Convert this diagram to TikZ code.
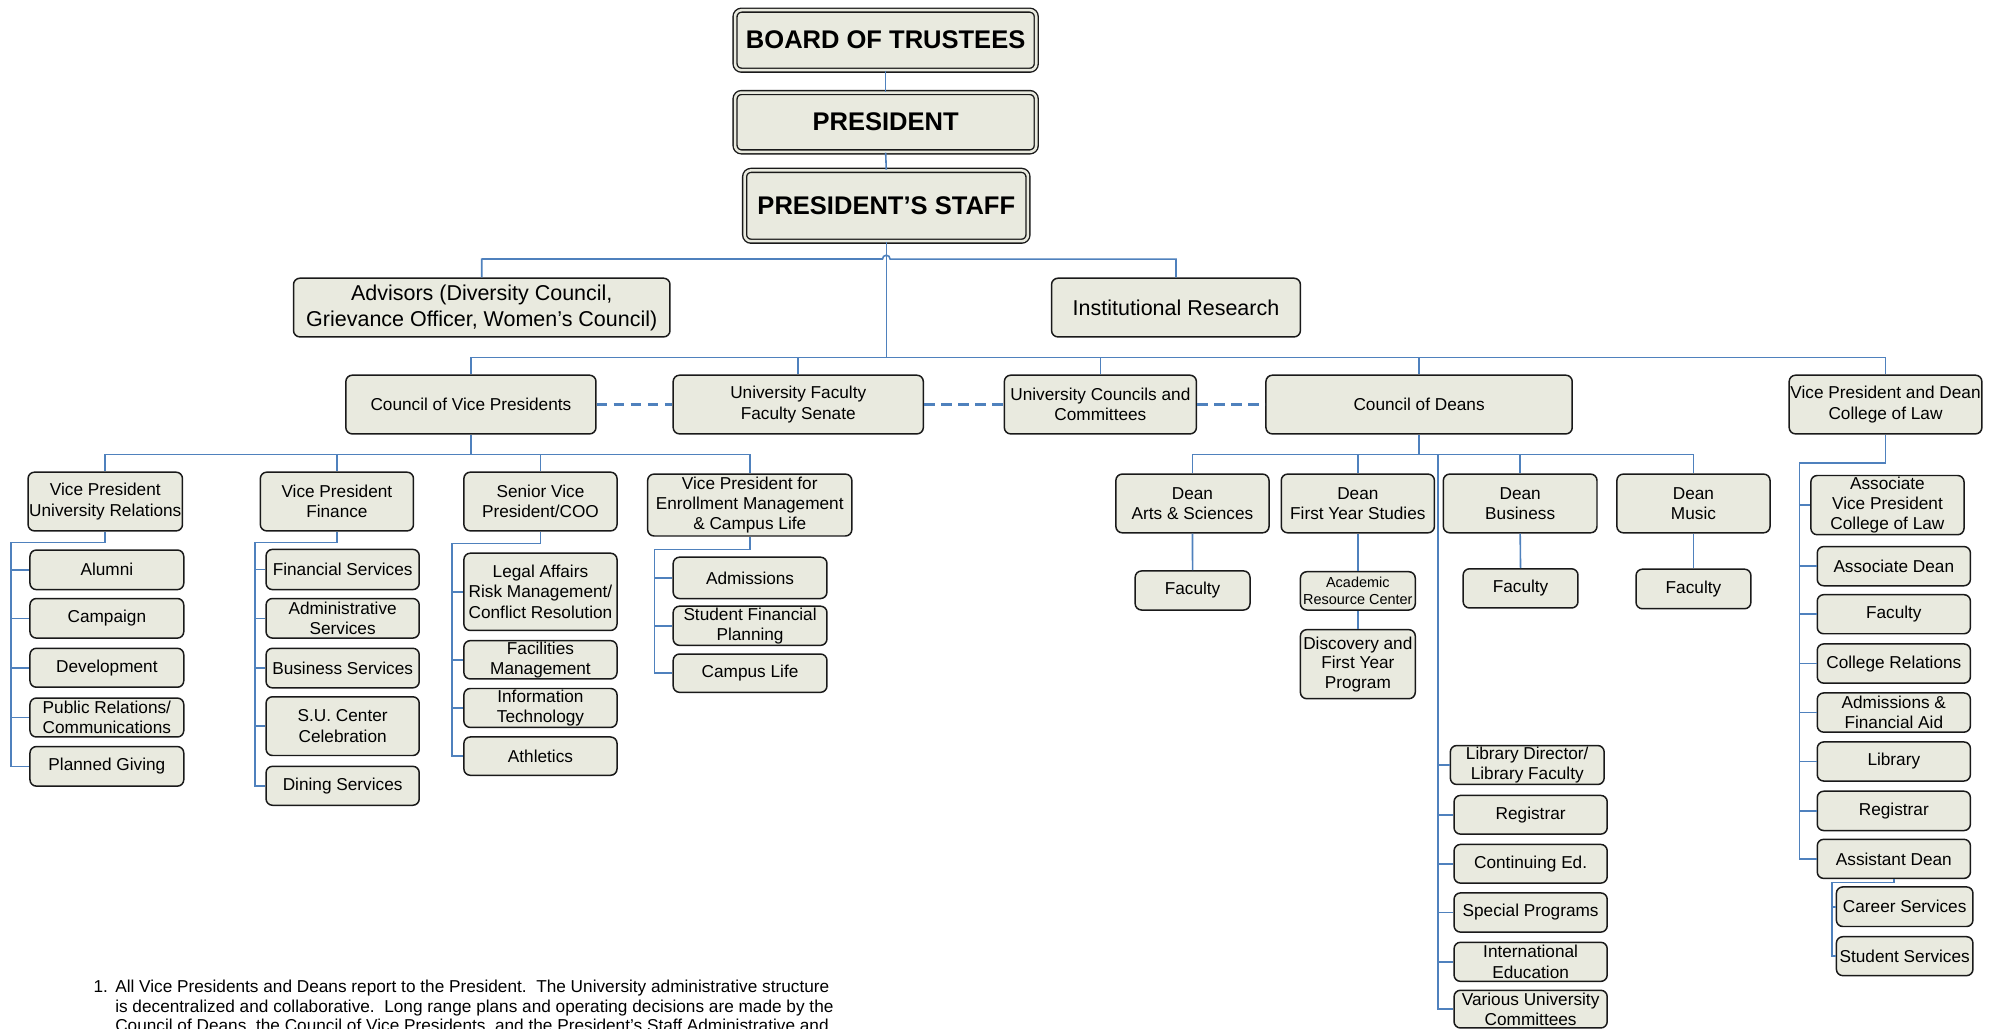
\documentclass[tikz,border=0pt]{standalone}
\usepackage{fontspec}
\setmainfont{Liberation Sans}
\definecolor{bfill}{HTML}{E9EADF}
\definecolor{lblue}{HTML}{4F81BD}
\tikzset{
  ob/.style={draw=black!90, line width=0.7pt, fill=bfill, rounded corners=3pt, inner sep=0pt, align=center, font=\fontsize{8.1}{9.6}\selectfont},
  topbox/.style={double=bfill, double distance=1.2pt, line width=0.65pt, font=\bfseries\fontsize{12}{14}\selectfont},
  bigbox/.style={font=\fontsize{10.1}{12.2}\selectfont},
  smallbox/.style={font=\fontsize{6.8}{8.2}\selectfont},
  tight/.style={font=\fontsize{8.1}{9.2}\selectfont},
  ln/.style={draw=lblue, line width=0.75pt},
  dln/.style={ln, line width=1pt, dash pattern=on 5pt off 3pt},
  fn/.style={anchor=base west, inner sep=0pt, font=\fontsize{8.1}{9.6}\selectfont},
}
\newcommand\bx[7][]{%
  \pgfmathsetmacro\bxw{(#5-#3)*0.6}%
  \pgfmathsetmacro\bxh{(#6-#4)*0.6}%
  \node[ob,#1,minimum width=\bxw pt,minimum height=\bxh pt] (#2) at ({(#3+#5)/2},{(#4+#6)/2}) {#7};}
\begin{document}
\begin{tikzpicture}[x=0.6pt,y=-0.6pt]
\useasboundingbox (0,0) rectangle (1568,806);
\clip (0,0) rectangle (1568,806);
% top
\bx[topbox]{bot}{576}{8}{812}{55}{BOARD OF TRUSTEES}
\bx[topbox]{pres}{576}{72.5}{812}{119}{PRESIDENT}
\bx[topbox]{staff}{583.5}{133.5}{805.5}{189}{PRESIDENT’S STAFF}
\bx[bigbox]{adv}{230}{218}{525}{264}{Advisors (Diversity Council,\\Grievance Officer, Women’s Council)}
\bx[bigbox]{ir}{824}{218}{1019}{264}{Institutional Research}
% level 2
\bx{cvp}{271}{294}{467}{340}{Council of Vice Presidents}
\bx{uf}{527.5}{294}{723.5}{340}{University Faculty\\Faculty Senate}
\bx{ucc}{787}{294}{937.5}{340}{University Councils and\\Committees}
\bx{cod}{992}{294}{1232}{340}{Council of Deans}
\bx{vplaw}{1402}{294}{1553}{340}{Vice President and Dean\\College of Law}
% VPs
\bx{vpur}{22}{370}{143}{416}{Vice President\\University Relations}
\bx{vpf}{204}{370}{324}{416}{Vice President\\Finance}
\bx{svp}{363.5}{370}{483.5}{416}{Senior Vice\\President/COO}
\bx[tight]{vpem}{507.5}{371.5}{667.5}{420}{Vice President for\\Enrollment Management\\\& Campus Life}
\bx{alu}{23.5}{431}{144}{462}{Alumni}
\bx{cam}{23.5}{469}{144}{500}{Campaign}
\bx{dev}{23.5}{508}{144}{538.5}{Development}
\bx{pr}{23.5}{547}{144}{577.5}{Public Relations/\\Communications}
\bx{pg}{23.5}{585}{144}{616}{Planned Giving}
\bx{fs}{208.5}{430.5}{328.5}{462}{Financial Services}
\bx{as}{208.5}{469}{328.5}{500}{Administrative\\Services}
\bx{bs}{208.5}{508}{328.5}{539}{Business Services}
\bx{su}{208.5}{546}{328.5}{592}{S.U. Center\\Celebration}
\bx{ds}{208.5}{600.5}{328.5}{631}{Dining Services}
\bx{la}{363.5}{433.5}{483.5}{494}{Legal Affairs\\Risk Management/\\Conflict Resolution}
\bx{fm}{363.5}{502}{483.5}{532}{Facilities\\Management}
\bx{it}{363.5}{539.5}{483.5}{570}{Information\\Technology}
\bx{ath}{363.5}{577.5}{483.5}{607.5}{Athletics}
\bx{adm}{527.5}{436.6}{648}{469}{Admissions}
\bx{sfp}{527.5}{475}{648}{505.7}{Student Financial\\Planning}
\bx{cl}{527.5}{512.5}{648}{542.5}{Campus Life}
% deans
\bx{das}{874.4}{371.5}{994.4}{417.5}{Dean\\Arts \& Sciences}
\bx{dfy}{1004}{371.5}{1124}{417.5}{Dean\\First Year Studies}
\bx{dbu}{1131}{371.5}{1251.4}{417.5}{Dean\\Business}
\bx{dmu}{1267}{371.5}{1387}{417.5}{Dean\\Music}
\bx{fas}{889.5}{447.4}{979.5}{478}{Faculty}
\bx[smallbox]{arcn}{1019}{448}{1109}{478}{Academic\\Resource Center}
\bx[tight]{disc}{1019}{493.4}{1109}{547.5}{Discovery and\\First Year\\Program}
\bx{fbu}{1146.5}{445.7}{1236.5}{476.4}{Faculty}
\bx{fmu}{1282}{446}{1372}{477}{Faculty}
\bx{lib}{1136.5}{584.2}{1257}{614.7}{Library Director/\\Library Faculty}
\bx{reg}{1139.4}{623.3}{1259.4}{653.6}{Registrar}
\bx{ced}{1139.4}{661.7}{1259.4}{692}{Continuing Ed.}
\bx{spp}{1139.4}{699.7}{1259.4}{730.4}{Special Programs}
\bx{ied}{1139.4}{738.4}{1259.4}{769}{International\\Education}
\bx{vuc}{1139.4}{776}{1259.4}{805.5}{Various University\\Committees}
% law
\bx[tight]{avp}{1419}{372.6}{1539}{419}{Associate\\Vice President\\College of Law}
\bx{ad}{1424}{428.3}{1544}{459}{Associate Dean}
\bx{lfac}{1424}{466}{1544}{496.6}{Faculty}
\bx{cr}{1424}{504.6}{1544}{535.3}{College Relations}
\bx{afa}{1424}{543}{1544}{573.7}{Admissions \&\\Financial Aid}
\bx{llib}{1424}{581.4}{1544}{612}{Library}
\bx{lreg}{1424}{620}{1544}{650.8}{Registrar}
\bx{asd}{1424}{657.7}{1544}{688.3}{Assistant Dean}
\bx{cs}{1439}{695}{1546}{726}{Career Services}
\bx{ss}{1439}{734}{1546}{764.5}{Student Services}
% connectors top
\draw[ln] (bot.south) -- (pres.north);
\draw[ln] (pres.south) -- (staff.north);
\coordinate (hop) at (staff.south |- 0,203);
\coordinate (busA) at (staff.south |- 0,280);
\draw[ln] (staff.south) -- (busA);
\draw[ln] (adv.north) -- (adv.north |- hop) -- ([xshift=-1.8pt]hop) arc[start angle=180,end angle=0,radius=1.8pt] -- (hop -| ir.north) -- (ir.north);
\draw[ln,line width=1.1pt] (adv.north |- hop) -- ([xshift=-1.8pt]hop);
\draw[ln] (cvp.north) -- (cvp.north |- busA) -| (vplaw.north);
\foreach \n in {uf,ucc,cod} \draw[ln] (\n.north) -- (\n.north |- busA);
\draw[dln] (cvp.east) -- (uf.west);
\draw[dln] (uf.east) -- (ucc.west);
\draw[dln] (ucc.east) -- (cod.west);
% VPs
\coordinate (busV) at (cvp.south |- 0,356);
\draw[ln] (cvp.south) -- (busV);
\draw[ln] (vpur.north) -- (vpur.north |- busV) -| (vpem.north);
\foreach \n in {vpf,svp} \draw[ln] (\n.north) -- (\n.north |- busV);
\coordinate (bUR) at (8.5,425);
\draw[ln] (vpur.south) |- (bUR) |- (pg.west);
\foreach \n in {alu,cam,dev,pr} \draw[ln] (bUR |- \n.west) -- (\n.west);
\coordinate (bF) at (200,425);
\draw[ln] (vpf.south) |- (bF) |- (ds.west);
\foreach \n in {fs,as,bs,su} \draw[ln] (bF |- \n.west) -- (\n.west);
\coordinate (bS) at (354,426);
\draw[ln] (svp.south) |- (bS) |- (ath.west);
\foreach \n in {la,fm,it} \draw[ln] (bS |- \n.west) -- (\n.west);
\coordinate (bE) at (513,430.5);
\draw[ln] (vpem.south) |- (bE) |- (cl.west);
\foreach \n in {adm,sfp} \draw[ln] (bE |- \n.west) -- (\n.west);
% deans
\coordinate (busD) at (cod.south |- 0,356);
\draw[ln] (cod.south) -- (busD);
\draw[ln] (das.north) -- (das.north |- busD) -| (dmu.north);
\foreach \n in {dfy,dbu} \draw[ln] (\n.north) -- (\n.north |- busD);
\coordinate (bD) at (1127,356);
\draw[ln] (bD) |- (vuc.west);
\foreach \n in {lib,reg,ced,spp,ied} \draw[ln] (bD |- \n.west) -- (\n.west);
\draw[ln] (das.south) -- (fas.north);
\draw[ln] (dfy.south) -- (arcn.north);
\draw[ln] (arcn.south) -- (disc.north);
\draw[ln] (dbu.south) -- (fbu.north);
\draw[ln] (dmu.south) -- (fmu.north);
% law
\coordinate (bL) at (1410,362.7);
\draw[ln] (vplaw.south) |- (bL) |- (asd.west);
\foreach \n in {avp,ad,lfac,cr,afa,llib,lreg} \draw[ln] (bL |- \n.west) -- (\n.west);
\coordinate (bAD) at (1435.5,691.6);
\draw[ln] (asd.south) |- (bAD) |- (ss.west);
\draw[ln] (bAD |- cs.west) -- (cs.west);
% footnote
\node[fn] (fnum) at (73,777.5) {1.};
\node[fn] (fn1) at (90,777.5) {All Vice Presidents and Deans report to the President.\ \ The University administrative structure};
\node[fn] (fn2) at (90,793) {is decentralized and collaborative.\ \ Long range plans and operating decisions are made by the};
\node[fn] (fn3) at (90,808.5) {Council of Deans, the Council of Vice Presidents, and the President’s Staff Administrative and};
\end{tikzpicture}
\end{document}
